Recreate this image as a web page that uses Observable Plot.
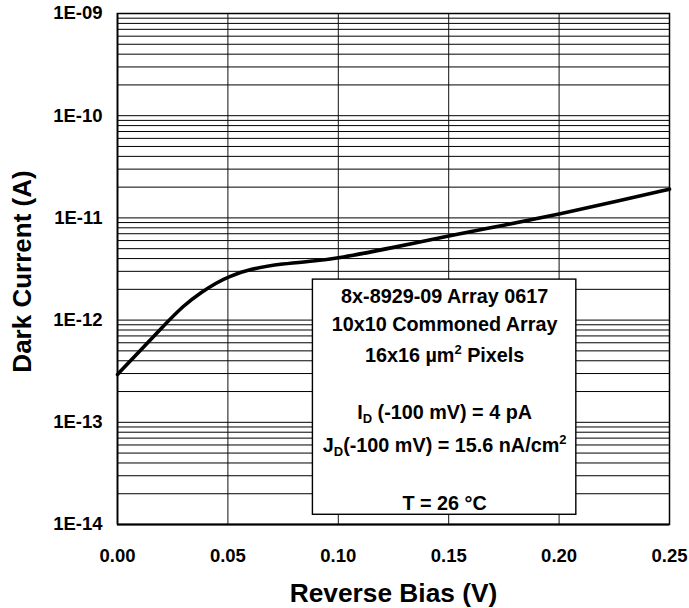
<!DOCTYPE html>
<html><head><meta charset="utf-8">
<script src="https://cdn.jsdelivr.net/npm/d3@7"></script>
<script src="https://cdn.jsdelivr.net/npm/@observablehq/plot@0.6"></script>
<style>html,body{margin:0;padding:0;background:#fff;}</style>
</head><body><div id="chart"></div>
<script>
// ---- data ----
const bias = [0, 0.010, 0.020, 0.030, 0.038, 0.045, 0.050, 0.060, 0.075, 0.089, 0.10, 0.125, 0.15, 0.175, 0.20, 0.225, 0.25];
const darkCurrent = [2.94e-13, 4.97e-13, 8.4e-13, 1.40e-12, 1.88e-12, 2.33e-12, 2.64e-12, 3.17e-12, 3.57e-12, 3.78e-12, 4.02e-12, 5.13e-12, 6.67e-12, 8.48e-12, 1.087e-11, 1.435e-11, 1.91e-11];
const xTicks = [0, 0.05, 0.10, 0.15, 0.20, 0.25];
const xTickLabels = ["0.00", "0.05", "0.10", "0.15", "0.20", "0.25"];
const yTicks = [1e-14, 1e-13, 1e-12, 1e-11, 1e-10, 1e-9];
const yTickLabels = ["1E-14", "1E-13", "1E-12", "1E-11", "1E-10", "1E-09"];
const xTitle = "Reverse Bias (V)";
const yTitle = "Dark Current (A)";
const noteLines = ["8x-8929-09 Array 0617", "10x10 Commoned Array", "16x16 \u00b5m^{2} Pixels", "I_{D} (-100 mV) = 4 pA", "J_{D}(-100 mV) = 15.6 nA/cm^{2}", "T = 26 \u00b0C"];
// annotation box extent in data units
const noteBox = {x1: 0.0885, x2: 0.2078, y1: 1.245e-14, y2: 2.49e-12};

// ---- derived ----
const curve = bias.map((b, i) => ({bias: b, current: darkCurrent[i]}));
const minorY = [];
for (let k = -14; k < -9; k++) for (let m = 1; m <= 9; m++) minorY.push(+(m * Math.pow(10, k)).toPrecision(3));
minorY.push(1e-9);
const boxCenterX = (noteBox.x1 + noteBox.x2) / 2;
const noteBaselines = [23, 51.5, 82.5, 139, 172.5, 230];
const FONT = "'Liberation Sans', Arial, sans-serif";
const NOTE_FS = 19.8;

const marks = [
  Plot.ruleY(minorY, {stroke: "#000", strokeWidth: 1}),
  Plot.ruleX(xTicks.slice(1, -1), {stroke: "#111", strokeWidth: 1}),
  Plot.line(curve, {x: "bias", y: "current", stroke: "#000", strokeWidth: 3.6, curve: "basis"}),
  Plot.rect([noteBox], {x1: "x1", x2: "x2", y1: "y1", y2: "y2", fill: "#fff", stroke: "#000", strokeWidth: 1.4}),
  ...noteLines.map((line, i) => Plot.text([line], {
    text: d => d, x: () => boxCenterX, y: () => noteBox.y2,
    dy: noteBaselines[i] - 0.32 * NOTE_FS, fontSize: NOTE_FS, fontWeight: "bold", textAnchor: "middle", fill: "#000"
  })),
  Plot.frame({stroke: "#000", strokeWidth: 1.5}),
  Plot.ruleY([1e-14], {stroke: "#000", strokeWidth: 2.2}),
  Plot.ruleX([0], {stroke: "#000", strokeWidth: 1.6}),
  Plot.text([xTitle], {text: d => d, frameAnchor: "bottom", textAnchor: "middle", dy: 77, fontSize: 26.3, fontWeight: "bold", fill: "#000"}),
  Plot.text([yTitle], {text: d => d, frameAnchor: "left", textAnchor: "middle", rotate: -90, dx: -95, dy: 2.5, fontSize: 26, fontWeight: "bold", fill: "#000"})
];

const svg = Plot.plot({
  width: 689, height: 608,
  marginLeft: 117, marginRight: 20, marginTop: 13, marginBottom: 84,
  style: {fontFamily: FONT, fontSize: "18.5px", fontWeight: "bold", color: "#000", background: "#fff"},
  x: {domain: [0, 0.25], ticks: xTicks, tickFormat: d => xTickLabels[xTicks.indexOf(d)], tickSize: 0, tickPadding: 24, label: null},
  y: {type: "log", domain: [1e-14, 1e-9], ticks: yTicks, tickFormat: d => yTickLabels[yTicks.indexOf(d)], tickSize: 0, tickPadding: 15, label: null},
  marks
});

// sub/superscript markup -> tspans
const NS = "http://www.w3.org/2000/svg";
svg.querySelectorAll("text").forEach(t => {
  const s = t.textContent;
  if (!/[_^]\{/.test(s)) return;
  while (t.firstChild) t.removeChild(t.firstChild);
  let shift = 0;
  for (const p of s.split(/([_^]\{[^}]*\})/)) {
    if (!p) continue;
    const ts = document.createElementNS(NS, "tspan");
    const m = p.match(/^([_^])\{(.*)\}$/);
    let target = 0, txt = p;
    if (m) { txt = m[2]; target = m[1] === "_" ? 4 : -8; ts.setAttribute("font-size", "13"); }
    if (target - shift !== 0) ts.setAttribute("dy", target - shift);
    shift = target;
    ts.textContent = txt;
    t.appendChild(ts);
  }
});

document.getElementById("chart").appendChild(svg);
</script>
</body></html>
